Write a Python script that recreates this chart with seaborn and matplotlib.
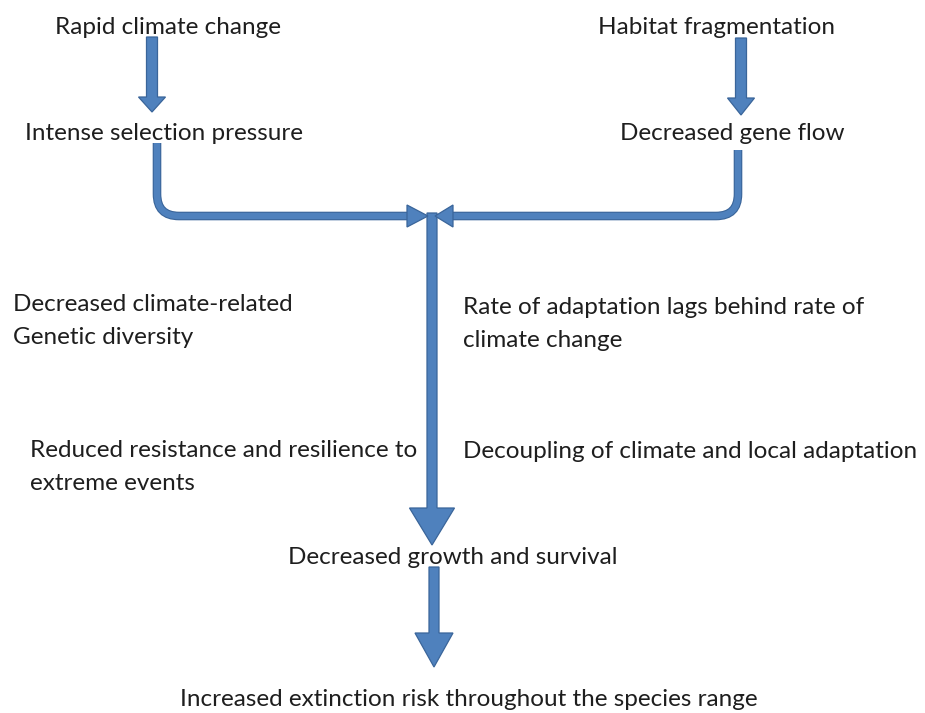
import matplotlib
matplotlib.use("Agg")
import matplotlib.pyplot as plt
import seaborn as sns
from matplotlib.patches import FancyArrow, Polygon, PathPatch
from matplotlib.path import Path

sns.set_style("white")
plt.rcParams["font.family"] = ["Lato", "DejaVu Sans"]

# node labels of the flow diagram
labels = [
    "Rapid climate change",
    "Habitat fragmentation",
    "Intense selection pressure",
    "Decreased gene flow",
    "Decreased climate-related\nGenetic diversity",
    "Rate of adaptation lags behind rate of\nclimate change",
    "Reduced resistance and resilience to\nextreme events",
    "Decoupling of climate and local adaptation",
    "Decreased growth and survival",
    "Increased extinction risk throughout the species range",
]
# layout (pixel coordinates, top-left origin): left x, centre y
label_x = [55, 598, 25, 620, 13, 463, 30, 463, 288, 180]
label_y = [28, 28, 133, 133, 321, 324, 467, 452, 557, 699]

FILL = "#4F81BD"
EDGE = "#3A659A"
TEXT = "#1e1e1e"

fig = plt.figure(figsize=(9.25, 7.13), dpi=100)
ax = fig.add_axes([0, 0, 1, 1])
ax.set_xlim(0, 925)
ax.set_ylim(713, 0)
ax.axis("off")

for txt, x, y in zip(labels, label_x, label_y):
    ax.text(x, y, txt, ha="left", va="center", fontsize=17.5, color=TEXT,
            linespacing=1.66)


def block_arrow(x, y0, y1, width, head_width, head_length):
    ax.add_patch(FancyArrow(x, y0, 0, y1 - y0, width=width,
                            head_width=head_width, head_length=head_length,
                            length_includes_head=True, facecolor=FILL,
                            edgecolor=EDGE, linewidth=0.9))


block_arrow(152, 37, 112, 11, 27, 15)
block_arrow(741, 38, 115, 11, 27, 17)
block_arrow(432, 213, 545, 10, 45, 37)
block_arrow(434, 567, 667, 10, 38, 34)


def connector(x_start, y_start, y_line, x_end, radius, tip):
    sgn = 1 if x_end > x_start else -1
    verts = [(x_start, y_start), (x_start, y_line - radius),
             (x_start, y_line), (x_start + sgn * radius, y_line),
             (x_end, y_line)]
    codes = [Path.MOVETO, Path.LINETO, Path.CURVE3, Path.CURVE3, Path.LINETO]
    p = Path(verts, codes)
    ax.add_patch(PathPatch(p, facecolor="none", edgecolor=EDGE, lw=6.2,
                           capstyle="butt"))
    ax.add_patch(PathPatch(p, facecolor="none", edgecolor=FILL, lw=4.6,
                           capstyle="butt"))
    ax.add_patch(Polygon([(x_end, y_line - 11), (x_end, y_line + 11),
                          (tip, y_line)], closed=True, facecolor=FILL,
                         edgecolor=EDGE, linewidth=0.9))


connector(157, 143, 216, 407, 22, 428)
connector(738, 150, 216, 453, 22, 435)

fig.savefig("out.png", dpi=100, facecolor="white")
